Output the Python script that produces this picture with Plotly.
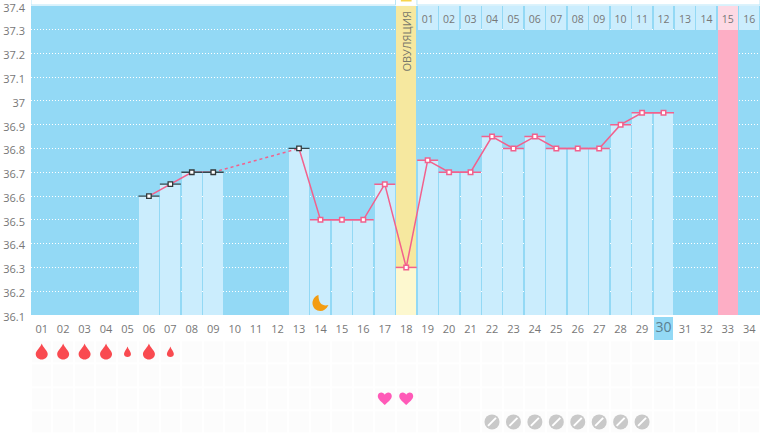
import plotly.graph_objects as go

days = list(range(1, 35))
day_labels = [f"{d:02d}" for d in days]
temps = [None, None, None, None, None, 36.6, 36.65, 36.7, 36.7, None, None, None, 36.8,
         36.5, 36.5, 36.5, 36.65, 36.3, 36.75, 36.7, 36.7, 36.85, 36.8, 36.85, 36.8, 36.8,
         36.8, 36.9, 36.95, 36.95, None, None, None, None]
dark_days = [6, 7, 8, 9, 13]
dash_days = [9, 13]
ovulation_day = 18
pink_day = 33
today = 30
phase_days = list(range(19, 35))
phase_labels = [f"{i:02d}" for i in range(1, 17)]
y_ticks = [36.1, 36.2, 36.3, 36.4, 36.5, 36.6, 36.7, 36.8, 36.9, 37, 37.1, 37.2, 37.3, 37.4]
big_drop_days = [1, 2, 3, 4, 6]
small_drop_days = [5, 7]
moon_day = 14
heart_days = [17, 18]
pill_days = [22, 23, 24, 25, 26, 27, 28, 29]

BG = "#93d9f5"; LIGHT = "#cbedfd"; PINK = "#fdaec5"; LINE = "#f2618d"
val = dict(zip(days, temps))
W, H = 770, 434
font = "Open Sans"
fig = go.Figure()


def bar(x, base, top, color, yaxis="y", width=0.93):
    fig.add_bar(x=x, y=[t - b for t, b in zip(top, base)], base=base, yaxis=yaxis,
                marker=dict(color=color, line_width=0), width=width, showlegend=False, hoverinfo="skip")


# grid of faint cells below chart
rows = [1, 2, 3, 4]
fig.add_heatmap(x=days, y=rows, z=[[1] * 34 for _ in rows], yaxis="y2", xgap=2, ygap=2,
                colorscale=[[0, "#fcfcfc"], [1, "#fcfcfc"]], showscale=False, hoverinfo="skip")
bar([today], [-0.48], [0.48], BG, "y2", 0.93)

# columns
col_days = [d for d in days if val[d] is not None and d != ovulation_day]
bar(col_days, [36.1] * len(col_days), [val[d] for d in col_days], LIGHT)
bar([ovulation_day], [36.1], [val[ovulation_day]], "#fdf8cf")
bar([ovulation_day], [val[ovulation_day]], [37.4], "#f6e89f")
bar([pink_day], [36.1], [37.3], PINK)
others = [d for d in phase_days if d != pink_day]
bar(others, [37.3] * len(others), [37.4] * len(others), LIGHT)
bar([pink_day], [37.3], [37.4], "#fdd9e4")

# temperature traces
fig.add_scatter(x=dash_days, y=[val[d] for d in dash_days], mode="lines",
                line=dict(color=LINE, width=1.5, dash="3px,3px"), showlegend=False, hoverinfo="skip")
fig.add_scatter(x=days, y=temps, mode="lines", line=dict(color=LINE, width=1.5), showlegend=False, hoverinfo="skip")
pink_pts = [d for d in col_days + [ovulation_day] if d not in dark_days]
fig.add_scatter(x=pink_pts, y=[val[d] for d in pink_pts], mode="markers",
                marker=dict(symbol="line-ew", size=15, line=dict(color=LINE, width=1.5)),
                showlegend=False, hoverinfo="skip")
fig.add_scatter(x=dark_days, y=[val[d] for d in dark_days], mode="markers",
                marker=dict(symbol="line-ew", size=15, line=dict(color="#33484f", width=1.3)),
                showlegend=False, hoverinfo="skip")
fig.add_scatter(x=pink_pts, y=[val[d] for d in pink_pts], mode="markers",
                marker=dict(symbol="square", size=4.5, color="white", line=dict(color=LINE, width=1.5)),
                showlegend=False, hoverinfo="skip")
fig.add_scatter(x=dark_days, y=[val[d] for d in dark_days], mode="markers",
                marker=dict(symbol="square", size=4.5, color="white", line=dict(color="#33383a", width=1.3)),
                showlegend=False, hoverinfo="skip")

# top labels
fig.add_scatter(x=phase_days, y=[37.337] * len(phase_days), mode="text", text=phase_labels,
                textfont=dict(family=font, size=10.5, color="#777"), showlegend=False, hoverinfo="skip")
# today's label over its highlighted cell
fig.add_scatter(x=[today], y=[0], yaxis="y2", mode="text", text=[day_labels[today - 1]],
                textfont=dict(family=font, size=14, color="#5a7f90"), showlegend=False, hoverinfo="skip")

# pills
fig.add_scatter(x=pill_days, y=[4] * len(pill_days), yaxis="y2", mode="markers",
                marker=dict(symbol="circle", size=15, color="#c9c9c9"), showlegend=False, hoverinfo="skip")
fig.add_scatter(x=pill_days, y=[4] * len(pill_days), yaxis="y2", mode="markers",
                marker=dict(symbol="line-ne", size=8, line=dict(color="white", width=2)),
                showlegend=False, hoverinfo="skip")

# icon shapes
DROP = "M 0 {t} C {a} {b} {w} {c} {w} {d} C {w} {e} {f} {g} 0 {g} C -{f} {g} -{w} {e} -{w} {d} C -{w} {c} -{a} {b} 0 {t} Z"
big = DROP.format(t=8.5, a=1, b=5, w=6, c=1, d=-2, e=-5, f=3.3, g=-7.5)
small = DROP.format(t=5.5, a=0.7, b=3, w=3.5, c=0.5, d=-2, e=-3.7, f=1.9, g=-5)
HEART = "M 0 -6.5 C -3 -3.5 -7 -1 -7 2.5 C -7 5 -5 6 -3.5 6 C -2 6 -0.7 5 0 3.8 C 0.7 5 2 6 3.5 6 C 5 6 7 5 7 2.5 C 7 -1 3 -3.5 0 -6.5 Z"
MOON = "M -2 8 C -6 7 -8 3 -8 0 C -8 -5 -4 -8 0 -8 C 3 -8 6 -6 8 -2 C 3 -3 -2 -2 -2 8 Z"


def icon(path, day, row, color, yref="y2"):
    fig.add_shape(type="path", path=path, xref="x", yref=yref, xsizemode="pixel", ysizemode="pixel",
                  xanchor=day, yanchor=row, fillcolor=color, line_width=0, layer="above")


for d in big_drop_days:
    icon(big, d, 1, "#f94a50")
for d in small_drop_days:
    icon(small, d, 1, "#f94a50")
for d in heart_days:
    icon(HEART, d, 3, "#ff5ab8")
icon(MOON, moon_day, 36.15, "#f39c12", "y")

# white strip on top
for x0, x1 in [(0.5, 17.5), (18.5, 34.5)]:
    fig.add_shape(type="rect", xref="x", yref="paper", x0=x0, x1=x1, y0=1 - 5 / H, y1=1.01,
                  fillcolor="white", line=dict(color="#b9e6f8", width=1))
fig.add_shape(type="rect", xref="x", yref="paper", x0=17.75, x1=18.25, y0=1 - 1.5 / H, y1=1.01,
              fillcolor="#f7d44d", line_width=0)

fig.add_annotation(x=ovulation_day, y=37.25, text="ОВУЛЯЦИЯ", textangle=-90, showarrow=False,
                   font=dict(family=font, size=11, color="#77776a"))

ticktext = ["" if d == today else s for d, s in zip(days, day_labels)]
fig.update_layout(
    width=W, height=H, margin=dict(l=0, r=0, t=0, b=0, autoexpand=False), barmode="overlay", bargap=0,
    paper_bgcolor="white", plot_bgcolor="white", showlegend=False,
    font=dict(family=font, size=11, color="#777"),
    xaxis=dict(domain=[31 / W, 760 / W], range=[0.5, 34.5], anchor="y", tickvals=days, ticktext=ticktext,
               showgrid=False, zeroline=False, ticks="", ticklabelstandoff=6, tickfont=dict(size=11, color="#777"),
               tickangle=0, automargin=False),
    yaxis=dict(domain=[1 - 315 / H, 1 - 5.7 / H], range=[36.1, 37.4], tickvals=y_ticks,
               ticktext=[str(v) for v in y_ticks], gridcolor="white", griddash="1px,2px", gridwidth=1,
               zeroline=False, showline=False, ticks="", ticklabelstandoff=5, ticklabelshift=2,
               tickfont=dict(size=11, color="#777"), anchor="x", layer="above traces", automargin=False,
               ticklabeloverflow="allow"),
    yaxis2=dict(domain=[0, 1 - 317 / H], range=[4.52, -0.5], visible=False, anchor="x", automargin=False),
)
# blue plot area drawn beneath everything, limited to the upper chart
fig.add_shape(type="rect", xref="x", yref="y", x0=0.5, x1=34.5, y0=36.1, y1=37.4, fillcolor=BG,
              line=dict(width=0), layer="below")
fig.write_html("out.html", config={"displayModeBar": False}, post_script="document.body.style.margin='0';")
